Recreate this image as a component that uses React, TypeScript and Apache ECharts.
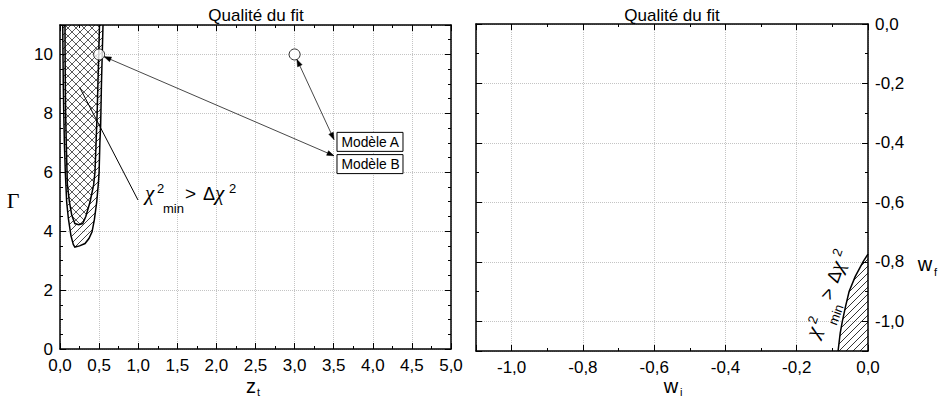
import React, { useEffect, useRef } from 'react';
import * as echarts from 'echarts';

// ---------- data ----------
// left panel : contours in the (z_t, Gamma) plane
const outerZ = [0.035, 0.038, 0.042, 0.048, 0.056, 0.068, 0.085, 0.107, 0.14, 0.17, 0.19, 0.25, 0.32, 0.37, 0.41, 0.44, 0.47, 0.49, 0.5, 0.51, 0.52, 0.53, 0.54, 0.55];
const outerG = [11, 10, 9, 8, 7, 6, 5, 4.43, 3.85, 3.55, 3.46, 3.5, 3.58, 3.75, 3.98, 4.4, 5.0, 5.6, 6.0, 7.0, 7.6, 9.0, 10.0, 11];
const innerZ = [0.064, 0.065, 0.068, 0.072, 0.08, 0.094, 0.12, 0.15, 0.19, 0.24, 0.29, 0.33, 0.385, 0.43, 0.447, 0.46, 0.475, 0.485, 0.495, 0.5, 0.505];
const innerG = [11, 10, 9, 8, 7, 5.6, 5.0, 4.55, 4.26, 4.22, 4.26, 4.5, 5.0, 5.57, 6.0, 6.9, 8.0, 9.0, 10.0, 10.5, 11];
// right panel : boundary in the (w_i, w_f) plane
const boundWi = [-0.084, -0.078, -0.072, -0.063, -0.053, -0.036, -0.014, 0];
const boundWf = [-1.1, -1.04, -1.0, -0.95, -0.9, -0.85, -0.8, -0.774];
const cornerWi = 0;
const cornerWf = -1.1;

// models
const circleZ = [0.5, 3.0];
const circleG = [10, 10];
const modelNames = ['Modèle A', 'Modèle B'];
const modelBoxZ = [3.542, 3.542];
const modelBoxG = [7.355, 6.6];
const arrowSource = [1, 0];
const arrowTipZ = [3.504, 3.504];
const arrowTipG = [7.11, 6.56];

// annotation anchors
const chiLabelZ = 1.087;
const chiLabelG = 5.06;
const pointerZ = [0.997, 0.256];
const pointerG = [5.06, 8.86];
const chiLabelWi = -0.14;
const chiLabelWf = -1.058;

const titleText = 'Qualité du fit';

// ---------- helpers ----------
const FONT = 'Liberation Sans';
const SERIF = 'Liberation Serif';

function fmt1(v: number) {
  return v.toFixed(1).replace('.', ',');
}
function fmtStep(step: number) {
  return (v: number) => {
    const r = v / step;
    if (Math.abs(r - Math.round(r)) > 1e-6) return '';
    const s = v.toFixed(1).replace('.', ',');
    return s === '-0,0' ? '0,0' : s;
  };
}

function txt(text: string, x: number, baseline: number, fs: number, family = FONT, align = 'left', italic = false) {
  return {
    type: 'text',
    x,
    y: baseline - 0.3465 * fs,
    silent: true,
    style: { text, fontSize: fs, fontFamily: family, fontStyle: italic ? 'italic' : 'normal', fill: '#000', align, verticalAlign: 'middle' },
  };
}

function chiLabelPieces() {
  return [
    txt('χ', 0, 0, 21, SERIF, 'left', true),
    txt('2', 12, -7, 13),
    txt('min', 18, 13, 13),
    txt('>', 40, 0, 19),
    txt('Δ', 58, 0, 18),
    txt('χ', 70, 0, 21, SERIF, 'left', true),
    txt('2', 84, -7, 13),
  ];
}

function hatch(polys: number[][][], d: number, dir: number, lw: number) {
  const out: any[] = [];
  let kmin = Infinity;
  let kmax = -Infinity;
  polys.forEach((pg) =>
    pg.forEach((p) => {
      const k = p[1] + dir * p[0];
      kmin = Math.min(kmin, k);
      kmax = Math.max(kmax, k);
    })
  );
  for (let c = Math.ceil(kmin / d) * d; c <= kmax; c += d) {
    const xs: number[] = [];
    polys.forEach((pg) => {
      for (let i = 0; i < pg.length; i++) {
        const a = pg[i];
        const b = pg[(i + 1) % pg.length];
        const ka = a[1] + dir * a[0];
        const kb = b[1] + dir * b[0];
        if ((ka <= c) !== (kb <= c)) {
          const t = (c - ka) / (kb - ka);
          xs.push(a[0] + t * (b[0] - a[0]));
        }
      }
    });
    xs.sort((p, q) => p - q);
    for (let j = 0; j + 1 < xs.length; j += 2) {
      out.push({
        type: 'line',
        silent: true,
        shape: { x1: xs[j], y1: c - dir * xs[j], x2: xs[j + 1], y2: c - dir * xs[j + 1] },
        style: { stroke: '#000', lineWidth: lw },
      });
    }
  }
  return out;
}

function arrowHead(tip: number[], from: number[], len: number, half: number) {
  const dx = tip[0] - from[0];
  const dy = tip[1] - from[1];
  const L = Math.hypot(dx, dy) || 1;
  const ux = dx / L;
  const uy = dy / L;
  const bx = tip[0] - ux * len;
  const by = tip[1] - uy * len;
  return {
    type: 'polygon',
    silent: true,
    shape: { points: [tip, [bx - uy * half, by + ux * half], [bx + uy * half, by - ux * half]] },
    style: { fill: '#000', stroke: '#000', lineWidth: 0.5 },
  };
}

// ---------- axes ----------
const axisLine = { show: true, onZero: false, lineStyle: { color: '#000', width: 1.5 } };
const axisTick = { show: true, inside: true, length: 6, lineStyle: { color: '#000', width: 1 } };
const minor = (n: number) => ({ show: true, splitNumber: n, length: 3, lineStyle: { color: '#000', width: 1 } });
const splitLine = { show: true, lineStyle: { color: '#c4c4c4', type: 'dotted', width: 1 } };
const labelStyle = { color: '#000', fontSize: 17, fontFamily: FONT };

export default function App() {
  const ref = useRef<HTMLDivElement>(null);
  useEffect(() => {
    if (!ref.current) return;
    const chart = echarts.init(ref.current, undefined, { renderer: 'svg' });

    const option: any = {
      animation: false,
      backgroundColor: '#fff',
      grid: [
        { left: 60, top: 25, width: 391, height: 324 },
        { left: 476, top: 24, width: 392, height: 327 },
      ],
      xAxis: [
        {
          type: 'value', gridIndex: 0, position: 'bottom', min: 0, max: 5, interval: 0.5,
          axisLine, axisTick, minorTick: minor(2), splitLine,
          axisLabel: { ...labelStyle, margin: 8, formatter: fmt1 },
        },
        {
          type: 'value', gridIndex: 0, position: 'top', min: 0, max: 5, interval: 0.5,
          axisLine, axisTick, minorTick: minor(2), splitLine: { show: false }, axisLabel: { show: false },
        },
        {
          type: 'value', gridIndex: 1, position: 'bottom', min: -1.1, max: 0, splitNumber: 5,
          axisLine, axisTick, minorTick: minor(2), splitLine,
          axisLabel: { ...labelStyle, margin: 8, formatter: fmtStep(0.2), showMinLabel: false },
        },
        {
          type: 'value', gridIndex: 1, position: 'top', min: -1.1, max: 0, splitNumber: 5,
          axisLine, axisTick, minorTick: minor(2), splitLine: { show: false }, axisLabel: { show: false },
        },
      ],
      yAxis: [
        {
          type: 'value', gridIndex: 0, position: 'left', min: 0, max: 11, interval: 2,
          axisLine, axisTick, minorTick: minor(4), splitLine,
          axisLabel: { ...labelStyle, margin: 7, formatter: (v: number) => (v % 2 === 0 ? String(v) : '') },
        },
        {
          type: 'value', gridIndex: 0, position: 'right', min: 0, max: 11, interval: 2,
          axisLine, axisTick, minorTick: minor(4), splitLine: { show: false }, axisLabel: { show: false },
        },
        {
          type: 'value', gridIndex: 1, position: 'right', min: -1.1, max: 0, splitNumber: 5,
          axisLine, axisTick, minorTick: minor(2), splitLine,
          axisLabel: { ...labelStyle, margin: 7, formatter: fmtStep(0.2), showMinLabel: false },
        },
        {
          type: 'value', gridIndex: 1, position: 'left', min: -1.1, max: 0, splitNumber: 5,
          axisLine, axisTick, minorTick: minor(2), splitLine: { show: false }, axisLabel: { show: false },
        },
      ],
      graphic: [
        txt(titleText, 256, 21.7, 17, FONT, 'center'),
        txt(titleText, 672, 21.7, 17, FONT, 'center'),
        txt('Γ', 13, 208, 22, SERIF, 'center'),
        txt('z', 251, 393, 20, FONT, 'center'),
        txt('t', 257, 396, 11),
        txt('w', 671, 393, 20, FONT, 'center'),
        txt('i', 680, 396, 11),
        txt('w', 925, 271, 20, FONT, 'center'),
        txt('f', 934, 276, 11),
      ],
      series: [
        {
          type: 'custom',
          xAxisIndex: 0,
          yAxisIndex: 0,
          data: [[0, 0]],
          clip: false,
          silent: true,
          z: 3,
          renderItem: (_p: any, api: any) => {
            const outer = outerZ.map((z, i) => api.coord([z, outerG[i]]));
            const inner = innerZ.map((z, i) => api.coord([z, innerG[i]]));
            const children: any[] = [];
            children.push(...hatch([outer, inner], 7, 1, 0.75));
            children.push(...hatch([inner], 8, 1, 0.65));
            children.push(...hatch([inner], 8, -1, 0.65));
            children.push({ type: 'polyline', silent: true, shape: { points: outer }, style: { fill: 'none', stroke: '#000', lineWidth: 1.5 } });
            children.push({ type: 'polyline', silent: true, shape: { points: inner }, style: { fill: 'none', stroke: '#000', lineWidth: 1.5 } });
            const p0 = api.coord([pointerZ[0], pointerG[0]]);
            const p1 = api.coord([pointerZ[1], pointerG[1]]);
            children.push({ type: 'line', silent: true, shape: { x1: p0[0], y1: p0[1], x2: p1[0], y2: p1[1] }, style: { stroke: '#000', lineWidth: 1 } });
            const a = api.coord([chiLabelZ, chiLabelG]);
            children.push({ type: 'group', x: a[0], y: a[1], children: chiLabelPieces() });
            return { type: 'group', children };
          },
        },
        {
          type: 'custom',
          xAxisIndex: 0,
          yAxisIndex: 0,
          data: [[0, 0]],
          clip: false,
          silent: true,
          z: 4,
          renderItem: (_p: any, api: any) => {
            const children: any[] = [];
            modelNames.forEach((name, i) => {
              const src = arrowSource[i];
              const c = api.coord([circleZ[src], circleG[src]]);
              const tip = api.coord([arrowTipZ[i], arrowTipG[i]]);
              const dx = tip[0] - c[0];
              const dy = tip[1] - c[1];
              const L = Math.hypot(dx, dy);
              const s = [c[0] + (dx / L) * 5.5, c[1] + (dy / L) * 5.5];
              children.push({ type: 'line', silent: true, shape: { x1: s[0], y1: s[1], x2: tip[0], y2: tip[1] }, style: { stroke: '#333', lineWidth: 0.9 } });
              children.push(arrowHead(tip, s, 7, 2.5));
              children.push(arrowHead(s, tip, 7, 2.5));
              const b = api.coord([modelBoxZ[i], modelBoxG[i]]);
              children.push({ type: 'rect', silent: true, shape: { x: b[0], y: b[1], width: 66, height: 19 }, style: { fill: '#fff', stroke: '#000', lineWidth: 1 } });
              children.push({ type: 'text', silent: true, x: b[0] + 4.5, y: b[1] + 10, style: { text: name, fontSize: 13.8, fontFamily: FONT, fill: '#000', align: 'left', verticalAlign: 'middle' } });
            });
            return { type: 'group', children };
          },
        },
        {
          type: 'scatter',
          xAxisIndex: 0,
          yAxisIndex: 0,
          z: 5,
          silent: true,
          symbol: 'circle',
          symbolSize: 11,
          itemStyle: { color: '#fff', borderColor: '#000', borderWidth: 1 },
          data: circleZ.map((z, i) => [z, circleG[i]]),
        },
        {
          type: 'custom',
          xAxisIndex: 2,
          yAxisIndex: 2,
          data: [[0, 0]],
          clip: false,
          silent: true,
          z: 3,
          renderItem: (_p: any, api: any) => {
            const curve = boundWi.map((w, i) => api.coord([w, boundWf[i]]));
            const poly = [...curve, api.coord([cornerWi, cornerWf])];
            const children: any[] = [];
            children.push(...hatch([poly], 7, 1, 0.8));
            children.push({ type: 'polyline', silent: true, shape: { points: curve }, style: { fill: 'none', stroke: '#000', lineWidth: 1.5 } });
            const a = api.coord([chiLabelWi, chiLabelWf]);
            children.push({ type: 'group', x: a[0], y: a[1], rotation: (70 * Math.PI) / 180, children: chiLabelPieces() });
            return { type: 'group', children };
          },
        },
      ],
    };
    chart.setOption(option);
    return () => chart.dispose();
  }, []);
  return <div ref={ref} style={{ position: 'fixed', left: 0, top: 0, width: 951, height: 400 }} />;
}
